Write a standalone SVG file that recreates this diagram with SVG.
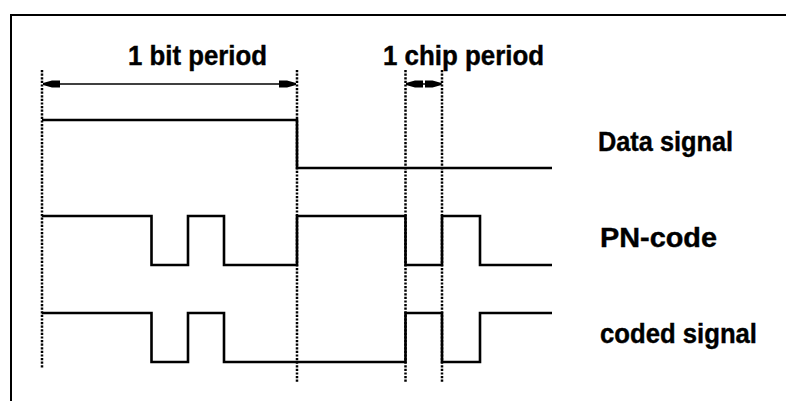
<svg xmlns="http://www.w3.org/2000/svg" width="786" height="401" viewBox="0 0 786 401">
  <style>
    .frame { fill: none; stroke: #000; stroke-width: 2; }
    .dot { fill: none; stroke: #000; stroke-width: 2.5; stroke-dasharray: 2.2 1.4; }
    .sig { fill: none; stroke: #000; stroke-width: 2.6; stroke-linejoin: miter; }
    .dim { fill: none; stroke: #000; stroke-width: 1.6; marker-start: url(#ah); marker-end: url(#ah); }
    .lbl { font-family: "Liberation Sans", Arial, Helvetica, sans-serif; font-weight: bold; font-size: 27px; fill: #000; stroke: #000; stroke-width: 0.4; }
  </style>
  <defs>
    <marker id="ah" viewBox="0 -5 17 10" refX="17" refY="0" markerWidth="17" markerHeight="10" markerUnits="userSpaceOnUse" orient="auto-start-reverse">
      <polygon points="0,-3.5 8,-3.5 17,-1 17,1 8,3.5 0,3.5" fill="#000"/>
    </marker>
  </defs>
  <rect width="786" height="401" fill="#fff"/>
  <path class="frame" d="M11,401 V15 H786"/>

  <g id="guides">
    <line class="dot" x1="42" y1="70" x2="42" y2="368"/>
    <line class="dot" x1="297" y1="70" x2="297" y2="382"/>
    <line class="dot" x1="405.5" y1="70" x2="405.5" y2="382"/>
    <line class="dot" x1="442" y1="70" x2="442" y2="382"/>
  </g>

  <g id="connectors">
    <line class="dim" x1="43" y1="84" x2="296" y2="84"/>
    <line class="dim" x1="406" y1="84" x2="441.5" y2="84"/>
  </g>

  <g id="data-signal">
    <polyline class="sig" points="42,120 297,120 297,168 552,168"/>
    <text class="lbl" x="598" y="151" textLength="135" lengthAdjust="spacingAndGlyphs">Data signal</text>
  </g>

  <g id="pn-code">
    <polyline class="sig" points="42,216 151.5,216 151.5,265 188,265 188,216 224,216 224,265 297,265 297,216 405.5,216 405.5,265 442,265 442,216 480,216 480,265 552,265"/>
    <text class="lbl" x="600" y="247" textLength="117" lengthAdjust="spacingAndGlyphs">PN-code</text>
  </g>

  <g id="coded-signal">
    <polyline class="sig" points="42,313 151.5,313 151.5,362 188,362 188,313 224,313 224,362 405.5,362 405.5,313 442,313 442,362 480,362 480,313 552,313"/>
    <text class="lbl" x="600" y="343" textLength="157" lengthAdjust="spacingAndGlyphs">coded signal</text>
  </g>

  <g id="labels">
    <text class="lbl" x="128" y="65" textLength="139" lengthAdjust="spacingAndGlyphs">1 bit period</text>
    <text class="lbl" x="383" y="65" textLength="161" lengthAdjust="spacingAndGlyphs">1 chip period</text>
  </g>
</svg>
